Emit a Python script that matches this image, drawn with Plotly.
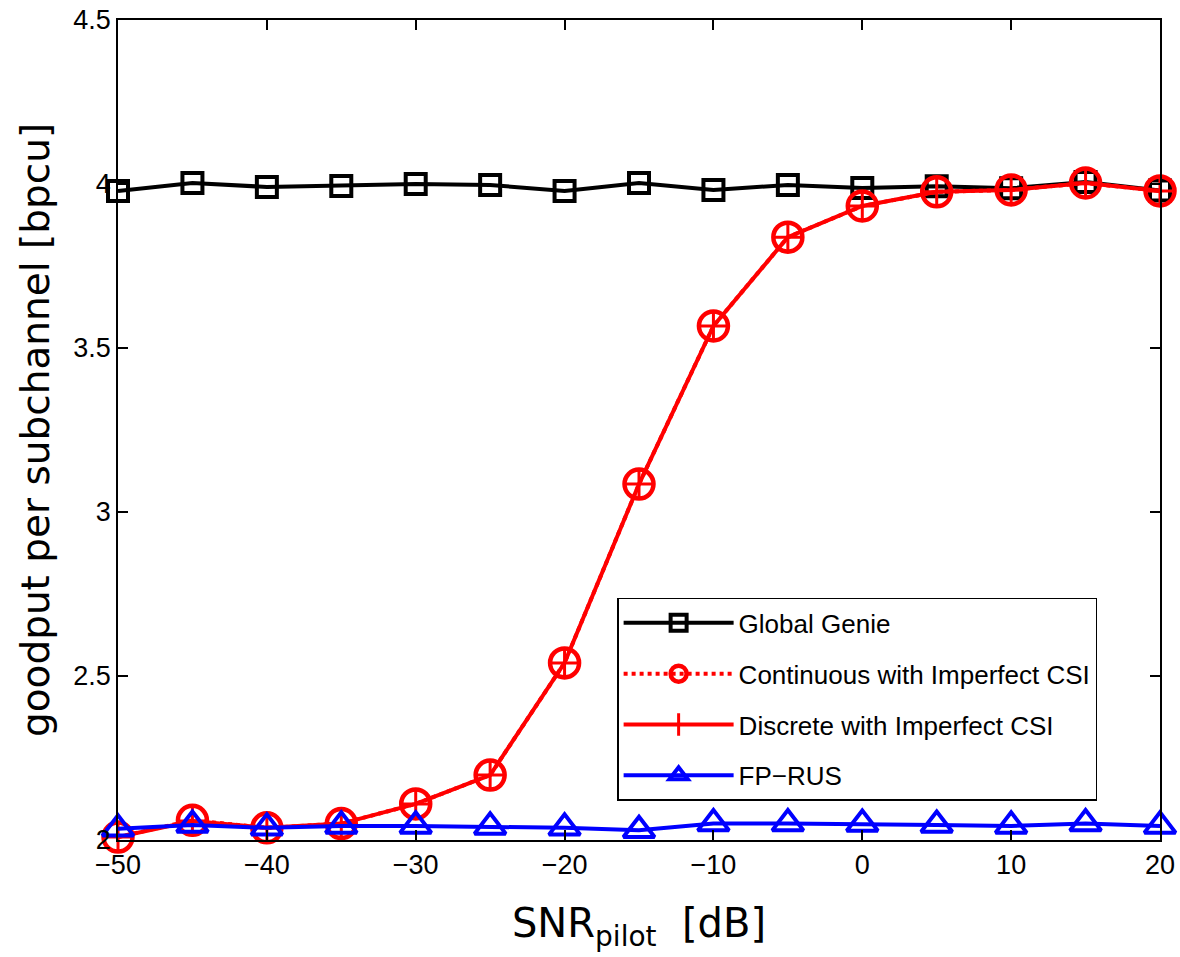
import plotly.graph_objects as go

snr_db = [-50, -45, -40, -35, -30, -25, -20, -15, -10, -5, 0, 5, 10, 15, 20]
global_genie = [3.979, 4.003, 3.991, 3.994, 4.000, 3.997, 3.979, 4.003, 3.982, 3.997, 3.988, 3.993, 3.987, 4.006, 3.980]
continuous_csi = [2.009, 2.060, 2.037, 2.050, 2.110, 2.198, 2.540, 3.085, 3.567, 3.838, 3.933, 3.976, 3.982, 4.003, 3.979]
discrete_csi = [2.009, 2.058, 2.037, 2.050, 2.110, 2.198, 2.540, 3.085, 3.567, 3.838, 3.933, 3.976, 3.982, 4.003, 3.979]
fp_rus = [2.034, 2.046, 2.037, 2.043, 2.043, 2.040, 2.037, 2.030, 2.050, 2.050, 2.049, 2.046, 2.043, 2.050, 2.043]

x_ticks = [-50, -40, -30, -20, -10, 0, 10, 20]
y_ticks = [2, 2.5, 3, 3.5, 4, 4.5]

fig = go.Figure()
fig.add_trace(go.Scatter(
    x=snr_db, y=global_genie, name="Global Genie", mode="lines+markers",
    line=dict(color="black", width=4),
    marker=dict(symbol="square-open", size=20, color="black", line=dict(width=4, color="black")),
    legendgroup="a", cliponaxis=False))
fig.add_trace(go.Scatter(
    x=snr_db, y=continuous_csi, name="Continuous with Imperfect CSI", mode="lines+markers",
    line=dict(color="red", width=4, dash="dot"),
    marker=dict(symbol="circle-open", size=29, color="red", line=dict(width=4.5, color="red")),
    legendgroup="b", cliponaxis=False))
fig.add_trace(go.Scatter(
    x=snr_db, y=discrete_csi, name="Discrete with Imperfect CSI", mode="lines+markers",
    line=dict(color="red", width=4),
    marker=dict(symbol="cross-thin-open", size=22, color="red", line=dict(width=3, color="red")),
    legendgroup="c", cliponaxis=False))
fig.add_trace(go.Scatter(
    x=snr_db, y=fp_rus, name="FP\u2212RUS", mode="lines+markers",
    line=dict(color="blue", width=4),
    marker=dict(symbol="triangle-up-open", size=27, color="blue", line=dict(width=4, color="blue")),
    legendgroup="d", cliponaxis=False))

axis_common = dict(
    showgrid=False, zeroline=False, showline=True, linecolor="black", linewidth=1.5,
    mirror="ticks", ticks="inside", ticklen=10, tickwidth=1.5, tickcolor="black",
    tickfont=dict(family="Liberation Sans, Arial, sans-serif", size=27, color="black"),
    automargin=False,
)
fig.update_xaxes(range=[-50, 20], tickvals=x_ticks, ticktext=[str(v).replace("-", "\u2212") for v in x_ticks],
                 title=dict(text="SNR<sub>pilot</sub>  [dB]", font=dict(family="DejaVu Sans", size=40, color="black"), standoff=30),
                 **axis_common)
fig.update_yaxes(range=[2, 4.5], tickvals=y_ticks, ticktext=["2", "2.5", "3", "3.5", "4", "4.5"],
                 title=dict(text="goodput per subchannel [bpcu]", font=dict(family="DejaVu Sans", size=39, color="black"), standoff=12),
                 **axis_common)

fig.update_layout(
    width=1180, height=957,
    margin=dict(l=118, r=20, t=20, b=117),
    plot_bgcolor="white", paper_bgcolor="white",
    legend=dict(x=0.479, y=0.0476, xanchor="left", yanchor="bottom",
                bordercolor="black", borderwidth=1.5, bgcolor="white",
                font=dict(family="Liberation Sans, Arial, sans-serif", size=26, color="black"),
                tracegroupgap=14, itemwidth=110),
    showlegend=True,
)

fig.write_html("out.html")
